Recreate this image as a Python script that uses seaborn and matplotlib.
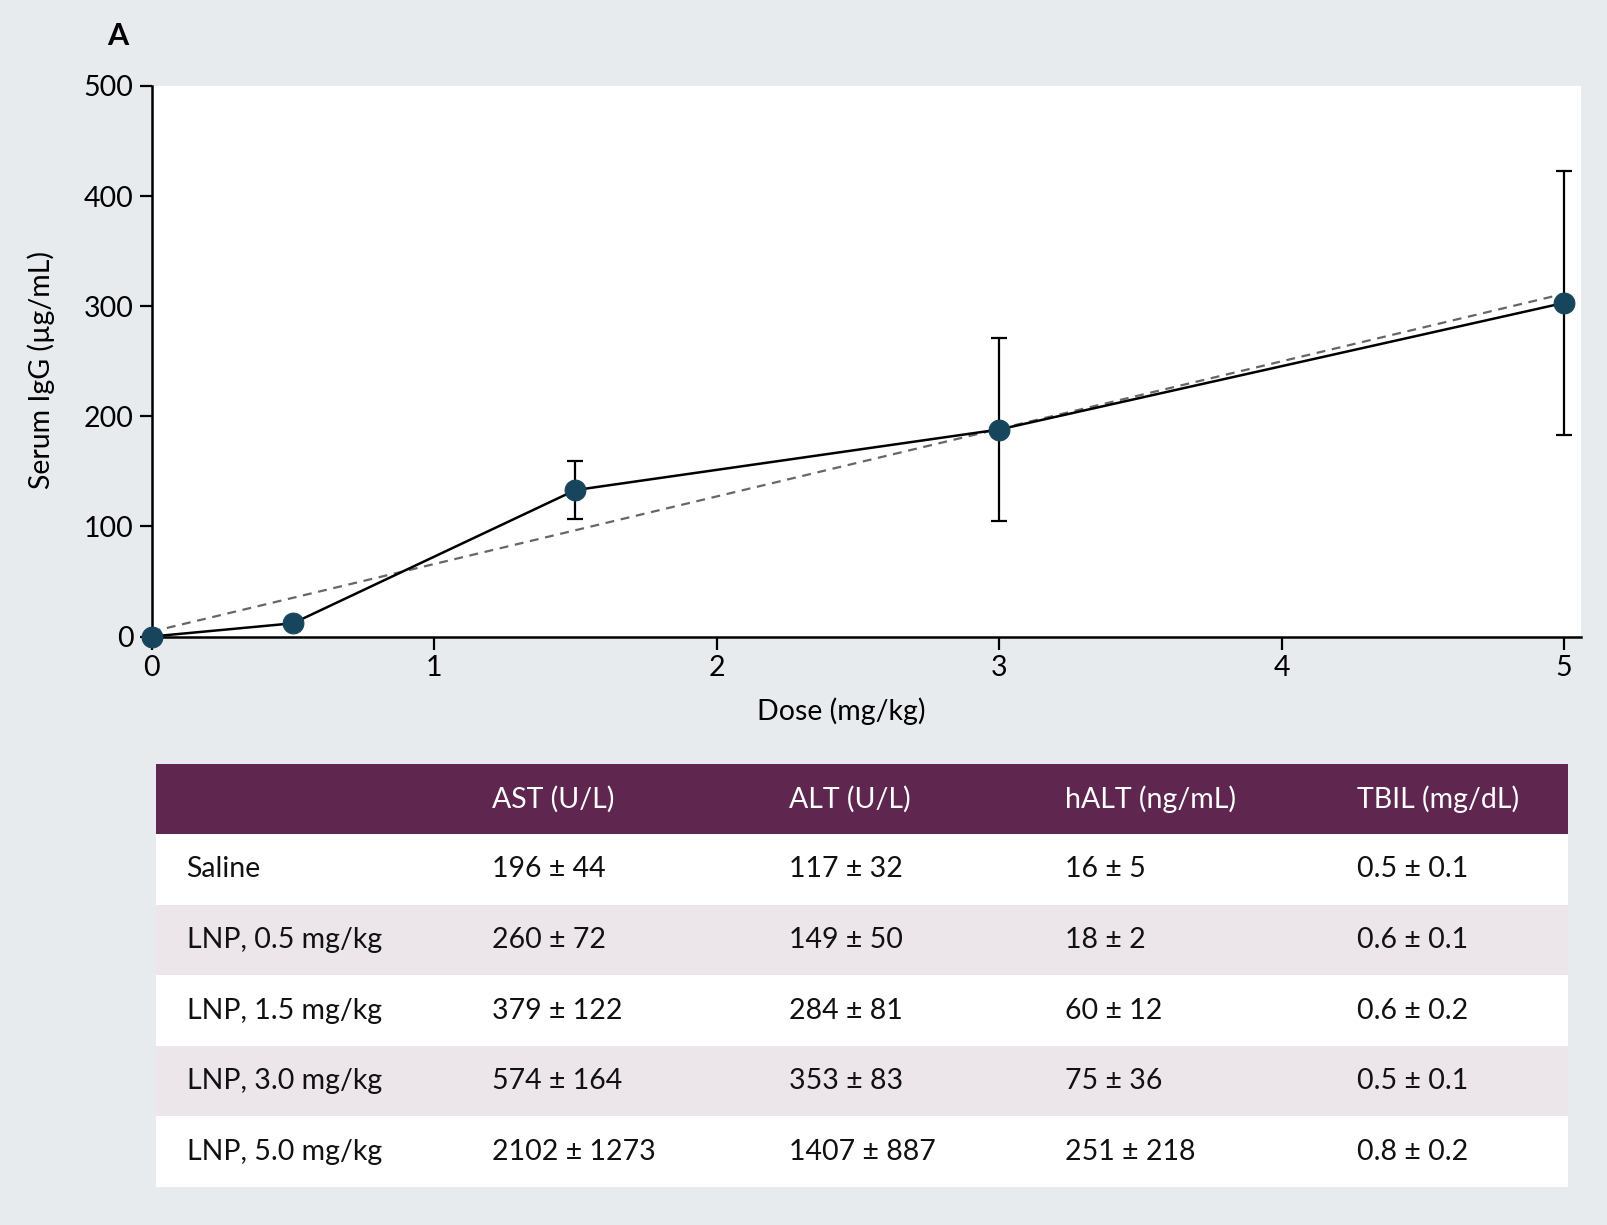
import numpy as np
import pandas as pd
import seaborn as sns
import matplotlib.pyplot as plt

# Panel A data: serum IgG vs dose
dose = [0, 0.5, 1.5, 3, 5]
igg = [0, 12, 133, 188, 303]
igg_sd = [0, 0, 26, 83, 120]

# Liver function table
row_labels = ['Saline', 'LNP, 0.5 mg/kg', 'LNP, 1.5 mg/kg', 'LNP, 3.0 mg/kg', 'LNP, 5.0 mg/kg']
col_labels = ['AST (U/L)', 'ALT (U/L)', 'hALT (ng/mL)', 'TBIL (mg/dL)']
ast = ['196 ± 44', '260 ± 72', '379 ± 122', '574 ± 164', '2102 ± 1273']
alt = ['117 ± 32', '149 ± 50', '284 ± 81', '353 ± 83', '1407 ± 887']
halt = ['16 ± 5', '18 ± 2', '60 ± 12', '75 ± 36', '251 ± 218']
tbil = ['0.5 ± 0.1', '0.6 ± 0.1', '0.6 ± 0.2', '0.5 ± 0.1', '0.8 ± 0.2']

bg = '#e8ebee'
teal = '#17465c'
purple = '#5f2650'
stripe = '#ece6ea'

sns.set_style('ticks')
plt.rcParams['font.family'] = ['Lato', 'DejaVu Sans']
plt.rcParams['text.color'] = 'black'
plt.rcParams['axes.labelcolor'] = 'black'
plt.rcParams['xtick.color'] = 'black'
plt.rcParams['ytick.color'] = 'black'

df = pd.DataFrame({'dose': dose, 'igg': igg, 'sd': igg_sd})

fig = plt.figure(figsize=(16.07, 12.25), dpi=100, facecolor=bg)

##################################
# Dose-response plot
##################################
ax = fig.add_axes([0.0944, 0.4804, 0.8894, 0.4494])
ax.set_facecolor('white')

sns.regplot(data=df, x='dose', y='igg', ci=None, scatter=False, ax=ax,
            line_kws=dict(color='#666666', lw=1.6, ls=(0, (4, 3)), zorder=2))
ax.errorbar(df['dose'][2:], df['igg'][2:], yerr=df['sd'][2:], fmt='none',
            ecolor='black', elinewidth=1.6, capsize=6, capthick=1.6, zorder=3)
sns.lineplot(data=df, x='dose', y='igg', ax=ax, color='black', lw=1.8,
             marker='o', markersize=15, markerfacecolor=teal,
             markeredgecolor=teal, zorder=4)
for l in ax.lines:
    l.set_clip_on(False)

ax.set_xlim(0, 5.06)
ax.set_ylim(0, 500)
ax.set_xticks([0, 1, 2, 3, 4, 5])
ax.set_yticks([0, 100, 200, 300, 400, 500])
ax.tick_params(labelsize=20.5, length=9, width=1.6, color='black', pad=4)
ax.set_xlabel('Dose (mg/kg)', fontsize=20.5)
ax.set_ylabel('Serum IgG (µg/mL)', fontsize=20.5)
ax.xaxis.set_label_coords(0.4824, -0.111)
ax.yaxis.set_label_coords(-0.068, 0.484)
sns.despine(ax=ax)
for s in ['left', 'bottom']:
    ax.spines[s].set_linewidth(1.8)
    ax.spines[s].set_color('black')

fig.text(0.0735, 0.971, 'A', fontsize=22, fontweight='bold', ha='center', va='center')

##################################
# Table
##################################
tax = fig.add_axes([0.0971, 0.031, 0.8786, 0.3457])
tax.set_xlim(0, 1)
tax.set_ylim(len(row_labels) + 1, 0)
tax.axis('off')

col_x = [0.0216, 0.238, 0.448, 0.644, 0.8506]
tax.axhspan(0, 1, color=purple, lw=0)
for i, name in enumerate(col_labels):
    tax.text(col_x[i + 1], 0.5, name, color='white', fontsize=20.5, va='center', ha='left')

for r, label in enumerate(row_labels):
    tax.axhspan(r + 1, r + 2, color='white' if r % 2 == 0 else stripe, lw=0)
    vals = [label, ast[r], alt[r], halt[r], tbil[r]]
    for c, v in enumerate(vals):
        tax.text(col_x[c], r + 1.5, v, color='#111111', fontsize=20.5, va='center', ha='left')

fig.savefig('out.png', dpi=100, facecolor=bg)
